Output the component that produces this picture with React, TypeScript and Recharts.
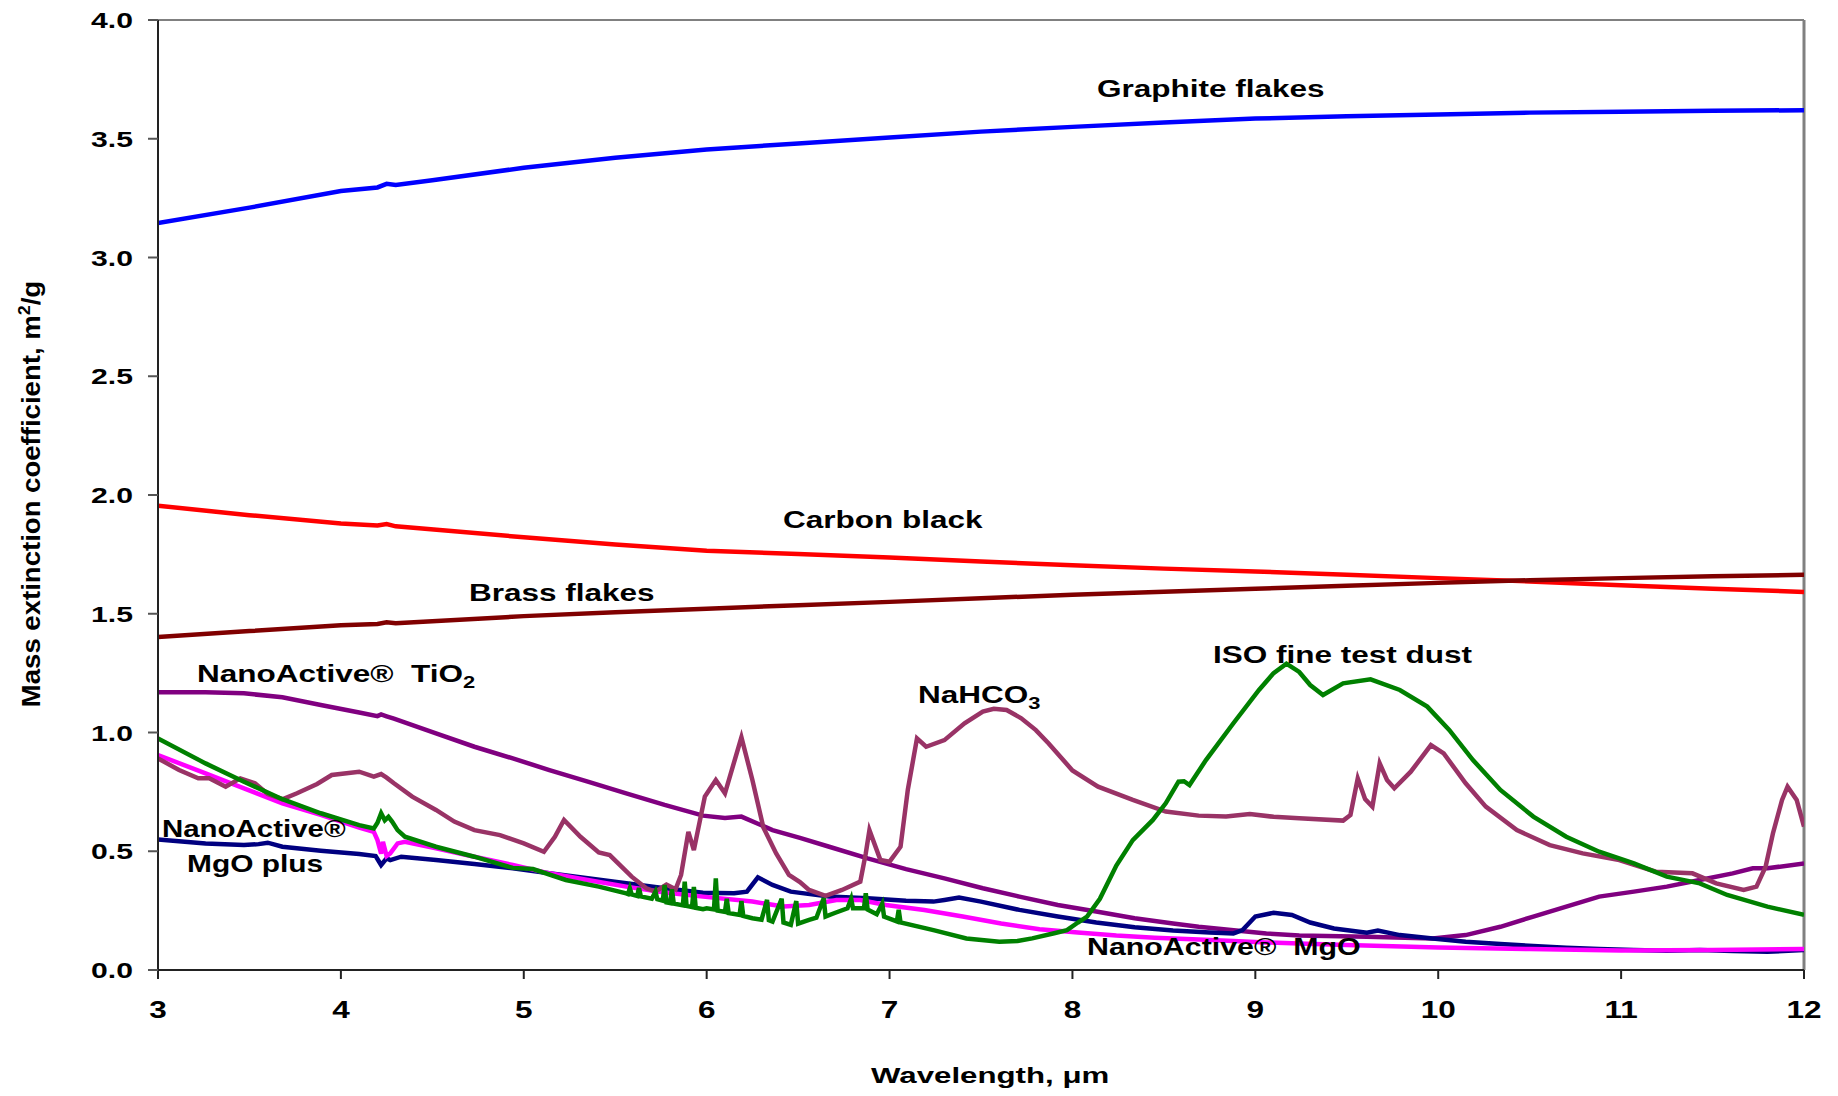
import React from 'react';
import { LineChart, Line, XAxis, YAxis, ReferenceLine } from 'recharts';

// wavelength (um) / mass extinction coefficient (m2/g) pairs
const graphiteFlakes: [number, number][] = [
  [3.0, 3.145], [3.5, 3.21], [4.0, 3.28], [4.2, 3.295], [4.25, 3.31], [4.3, 3.305], [4.5, 3.325],
  [5.0, 3.378], [5.5, 3.42], [6.0, 3.455], [6.5, 3.48], [7.0, 3.505], [7.5, 3.53], [8.0, 3.55],
  [8.5, 3.568], [9.0, 3.585], [9.5, 3.595], [10.0, 3.602], [10.5, 3.61], [11.0, 3.614], [11.5, 3.618], [12.0, 3.62],
];

const carbonBlack: [number, number][] = [
  [3.0, 1.955], [3.5, 1.915], [4.0, 1.88], [4.2, 1.872], [4.25, 1.878], [4.3, 1.868], [5.0, 1.822],
  [5.5, 1.792], [6.0, 1.765], [6.5, 1.752], [7.0, 1.737], [7.5, 1.72], [8.0, 1.704], [8.5, 1.69],
  [9.0, 1.678], [9.5, 1.664], [10.0, 1.65], [10.5, 1.636], [11.0, 1.62], [11.5, 1.605], [12.0, 1.592],
];

const brassFlakes: [number, number][] = [
  [3.0, 1.402], [3.5, 1.427], [4.0, 1.452], [4.2, 1.457], [4.25, 1.464], [4.3, 1.46], [5.0, 1.49],
  [5.5, 1.506], [6.0, 1.521], [6.5, 1.536], [7.0, 1.55], [7.5, 1.565], [8.0, 1.58], [8.5, 1.593],
  [9.0, 1.605], [9.5, 1.618], [10.0, 1.63], [10.5, 1.641], [11.0, 1.65], [11.5, 1.658], [12.0, 1.664],
];

const tio2: [number, number][] = [
  [3.0, 1.169], [3.26, 1.169], [3.47, 1.165], [3.68, 1.148], [3.89, 1.116], [4.1, 1.084], [4.2, 1.069],
  [4.22, 1.076], [4.25, 1.068], [4.29, 1.058], [4.52, 0.996], [4.73, 0.94], [4.94, 0.891], [5.14, 0.842],
  [5.35, 0.793], [5.56, 0.744], [5.77, 0.695], [5.98, 0.65], [6.1, 0.64], [6.19, 0.646], [6.36, 0.589],
  [6.51, 0.556], [6.67, 0.519], [6.88, 0.47], [7.09, 0.425], [7.3, 0.386], [7.51, 0.344], [7.71, 0.309],
  [7.92, 0.274], [8.13, 0.246], [8.34, 0.218], [8.55, 0.196], [8.69, 0.182], [9.06, 0.154], [9.24, 0.145],
  [9.61, 0.14], [9.97, 0.133], [10.15, 0.147], [10.34, 0.182], [10.52, 0.225], [10.7, 0.267], [10.88, 0.309],
  [11.07, 0.33], [11.25, 0.351], [11.43, 0.379], [11.61, 0.407], [11.72, 0.428], [11.8, 0.428], [12.0, 0.449],
];

const mgoPlus: [number, number][] = [
  [3.0, 0.55], [3.26, 0.533], [3.47, 0.526], [3.55, 0.53], [3.6, 0.536], [3.68, 0.519], [3.89, 0.502],
  [4.1, 0.488], [4.19, 0.48], [4.22, 0.442], [4.25, 0.47], [4.27, 0.463], [4.33, 0.477], [4.52, 0.463],
  [4.73, 0.446], [4.94, 0.428], [5.14, 0.407], [5.35, 0.386], [5.56, 0.365], [5.77, 0.344], [5.98, 0.325],
  [6.15, 0.323], [6.22, 0.33], [6.28, 0.39], [6.36, 0.358], [6.46, 0.33], [6.67, 0.309], [6.88, 0.302],
  [7.09, 0.292], [7.24, 0.288], [7.3, 0.295], [7.38, 0.305], [7.5, 0.288], [7.71, 0.253], [7.92, 0.225],
  [8.13, 0.2], [8.34, 0.18], [8.55, 0.166], [8.75, 0.158], [8.88, 0.154], [8.93, 0.168], [9.0, 0.225],
  [9.1, 0.241], [9.2, 0.232], [9.3, 0.2], [9.43, 0.175], [9.61, 0.157], [9.67, 0.166], [9.79, 0.147],
  [9.97, 0.133], [10.15, 0.119], [10.34, 0.109], [10.52, 0.101], [10.7, 0.094], [10.88, 0.088],
  [11.07, 0.084], [11.25, 0.081], [11.43, 0.084], [11.61, 0.08], [11.8, 0.077], [12.0, 0.084],
];

const mgo: [number, number][] = [
  [3.0, 0.905], [3.26, 0.828], [3.47, 0.765], [3.68, 0.702], [3.89, 0.653], [4.1, 0.6], [4.18, 0.582],
  [4.2, 0.547], [4.22, 0.49], [4.23, 0.54], [4.25, 0.48], [4.27, 0.491], [4.31, 0.533], [4.35, 0.54],
  [4.52, 0.512], [4.73, 0.477], [4.94, 0.442], [5.14, 0.407], [5.35, 0.379], [5.56, 0.351], [5.77, 0.326],
  [5.98, 0.309], [6.25, 0.288], [6.42, 0.267], [6.56, 0.274], [6.71, 0.295], [6.84, 0.295], [6.98, 0.274],
  [7.19, 0.253], [7.4, 0.225], [7.61, 0.196], [7.82, 0.172], [8.03, 0.158], [8.24, 0.145], [8.45, 0.136],
  [8.69, 0.128], [8.88, 0.122], [9.06, 0.116], [9.24, 0.112], [9.5, 0.105], [10.0, 0.095], [10.5, 0.088],
  [11.0, 0.082], [11.5, 0.084], [12.0, 0.088],
];

const nahco3: [number, number][] = [
  [3.0, 0.891], [3.115, 0.842], [3.22, 0.807], [3.28, 0.807], [3.37, 0.772], [3.45, 0.807], [3.53, 0.786],
  [3.6, 0.741], [3.68, 0.719], [3.76, 0.744], [3.87, 0.783], [3.95, 0.821], [4.1, 0.835], [4.18, 0.814],
  [4.22, 0.825], [4.25, 0.81], [4.29, 0.786], [4.39, 0.73], [4.52, 0.674], [4.62, 0.625], [4.73, 0.589],
  [4.87, 0.568], [5.0, 0.533], [5.11, 0.498], [5.17, 0.561], [5.22, 0.632], [5.31, 0.561], [5.41, 0.495],
  [5.47, 0.484], [5.59, 0.393], [5.67, 0.344], [5.72, 0.33], [5.78, 0.36], [5.83, 0.34], [5.86, 0.4],
  [5.9, 0.582], [5.93, 0.505], [5.99, 0.73], [6.05, 0.8], [6.1, 0.744], [6.19, 0.98], [6.25, 0.8],
  [6.31, 0.6], [6.38, 0.491], [6.45, 0.4], [6.51, 0.37], [6.56, 0.337], [6.65, 0.312], [6.74, 0.337],
  [6.84, 0.372], [6.87, 0.491], [6.89, 0.589], [6.95, 0.463], [7.0, 0.456], [7.06, 0.519], [7.1, 0.76],
  [7.15, 0.975], [7.2, 0.94], [7.3, 0.968], [7.41, 1.039], [7.51, 1.088], [7.57, 1.1], [7.64, 1.095],
  [7.72, 1.06], [7.8, 1.01], [7.87, 0.954], [8.0, 0.84], [8.14, 0.772], [8.33, 0.716], [8.51, 0.667],
  [8.69, 0.65], [8.84, 0.646], [8.97, 0.657], [9.1, 0.645], [9.24, 0.639], [9.48, 0.629], [9.52, 0.653],
  [9.56, 0.807], [9.6, 0.72], [9.64, 0.688], [9.68, 0.87], [9.72, 0.8], [9.76, 0.765], [9.85, 0.835],
  [9.96, 0.947], [10.03, 0.912], [10.15, 0.786], [10.26, 0.688], [10.43, 0.589], [10.61, 0.526],
  [10.79, 0.491], [10.99, 0.463], [11.19, 0.414], [11.39, 0.407], [11.52, 0.365], [11.67, 0.337],
  [11.74, 0.351], [11.79, 0.435], [11.83, 0.575], [11.88, 0.716], [11.91, 0.772], [11.96, 0.716], [12.0, 0.604],
];

const isoDust: [number, number][] = [
  [3.0, 0.975], [3.26, 0.87], [3.47, 0.793], [3.68, 0.719], [3.89, 0.66], [4.1, 0.61], [4.18, 0.596],
  [4.2, 0.62], [4.22, 0.66], [4.24, 0.63], [4.26, 0.645], [4.28, 0.625], [4.31, 0.589], [4.35, 0.561],
  [4.52, 0.519], [4.73, 0.477], [4.94, 0.43], [5.05, 0.425], [5.23, 0.379], [5.41, 0.351], [5.56, 0.323],
  [5.57, 0.32], [5.58, 0.344], [5.59, 0.318], [5.62, 0.312], [5.63, 0.345], [5.64, 0.31], [5.7, 0.3],
  [5.72, 0.33], [5.73, 0.298], [5.76, 0.292], [5.77, 0.358], [5.78, 0.285], [5.8, 0.282], [5.81, 0.34],
  [5.82, 0.28], [5.87, 0.272], [5.88, 0.372], [5.89, 0.27], [5.92, 0.265], [5.93, 0.35], [5.94, 0.262],
  [5.98, 0.256], [6.0, 0.26], [6.04, 0.255], [6.05, 0.386], [6.06, 0.25], [6.1, 0.245], [6.11, 0.3],
  [6.12, 0.24], [6.18, 0.232], [6.19, 0.29], [6.2, 0.228], [6.25, 0.218], [6.3, 0.212], [6.33, 0.295],
  [6.34, 0.21], [6.36, 0.204], [6.41, 0.3], [6.42, 0.2], [6.46, 0.19], [6.49, 0.29], [6.5, 0.195],
  [6.56, 0.211], [6.6, 0.22], [6.64, 0.302], [6.65, 0.225], [6.7, 0.24], [6.77, 0.26], [6.79, 0.3],
  [6.8, 0.26], [6.86, 0.26], [6.87, 0.323], [6.88, 0.255], [6.93, 0.235], [6.96, 0.28], [6.97, 0.225],
  [7.04, 0.205], [7.05, 0.253], [7.06, 0.2], [7.24, 0.168], [7.42, 0.133], [7.6, 0.119], [7.7, 0.122],
  [7.78, 0.133], [7.9, 0.155], [7.97, 0.168], [8.03, 0.2], [8.08, 0.225], [8.15, 0.3], [8.24, 0.44],
  [8.33, 0.547], [8.44, 0.632], [8.51, 0.702], [8.58, 0.793], [8.61, 0.795], [8.64, 0.779], [8.73, 0.884],
  [8.88, 1.039], [9.02, 1.179], [9.1, 1.25], [9.17, 1.29], [9.24, 1.255], [9.3, 1.2], [9.37, 1.158],
  [9.48, 1.207], [9.63, 1.224], [9.79, 1.179], [9.94, 1.109], [10.06, 1.011], [10.19, 0.884], [10.34, 0.758],
  [10.52, 0.646], [10.7, 0.561], [10.88, 0.498], [11.07, 0.449], [11.25, 0.393], [11.43, 0.365],
  [11.58, 0.316], [11.8, 0.267], [12.0, 0.232],
];

const xTicks = [3, 4, 5, 6, 7, 8, 9, 10, 11, 12];
const yTicks = [0, 0.5, 1, 1.5, 2, 2.5, 3, 3.5, 4];

const FONT = '"Liberation Sans", Arial, sans-serif';
const SX = 1.37; // the original text is drawn wide

const toPts = (arr: [number, number][]) => arr.map(([x, y]) => ({ x, y }));

const series = [
  { name: 'Graphite flakes', data: graphiteFlakes, color: '#0000FF' },
  { name: 'Carbon black', data: carbonBlack, color: '#FF0000' },
  { name: 'Brass flakes', data: brassFlakes, color: '#800000' },
  { name: 'TiO2', data: tio2, color: '#800080' },
  { name: 'MgO plus', data: mgoPlus, color: '#000080' },
  { name: 'MgO', data: mgo, color: '#FF00FF' },
  { name: 'NaHCO3', data: nahco3, color: '#993366' },
  { name: 'ISO fine test dust', data: isoDust, color: '#008000' },
];

const YTick = (props: any) => (
  <text
    transform={`translate(${props.x},${props.y + 8}) scale(${SX},1)`}
    textAnchor="end"
    fontFamily={FONT}
    fontWeight="bold"
    fontSize={22}
    fill="#000"
  >
    {props.payload.value.toFixed(1)}
  </text>
);

const XTick = (props: any) => (
  <text
    transform={`translate(${props.x},${props.y + 16}) scale(${SX},1)`}
    textAnchor="middle"
    fontFamily={FONT}
    fontWeight="bold"
    fontSize={23}
    fill="#000"
  >
    {props.payload.value}
  </text>
);

const Lbl = ({ x, y, children, sx = SX, size = 23 }: any) => (
  <text
    transform={`translate(${x},${y}) scale(${sx},1)`}
    fontFamily={FONT}
    fontWeight="bold"
    fontSize={size}
    fill="#000"
    style={{ whiteSpace: 'pre' }}
  >
    {children}
  </text>
);

const App: React.FC = () => {
  return (
    <div style={{ position: 'absolute', left: 0, top: 0, width: 1838, height: 1096, background: '#fff' }}>
      <LineChart width={1838} height={1096} margin={{ top: 20, right: 34, left: 0, bottom: 0 }}>
        <XAxis
          dataKey="x"
          type="number"
          domain={[3, 12]}
          ticks={xTicks}
          height={126}
          tickSize={9}
          tickMargin={23}
          tick={XTick}
          axisLine={{ stroke: '#222', strokeWidth: 2 }}
          tickLine={{ stroke: '#222', strokeWidth: 2 }}
          allowDataOverflow
        />
        <YAxis
          type="number"
          domain={[0, 4]}
          ticks={yTicks}
          width={158}
          tickSize={10}
          tickMargin={15}
          tick={YTick}
          axisLine={{ stroke: '#222', strokeWidth: 2 }}
          tickLine={{ stroke: '#555', strokeWidth: 2 }}
          allowDataOverflow
        />
        <ReferenceLine y={4} stroke="#808080" strokeWidth={2} />
        <ReferenceLine x={12} stroke="#808080" strokeWidth={3} />
        {series.map((s) => (
          <Line
            key={s.name}
            data={toPts(s.data)}
            dataKey="y"
            type="linear"
            stroke={s.color}
            strokeWidth={4.5}
            dot={false}
            activeDot={false}
            isAnimationActive={false}
          />
        ))}
      </LineChart>
      <svg
        width={1838}
        height={1096}
        style={{ position: 'absolute', left: 0, top: 0, pointerEvents: 'none' }}
      >
        <Lbl x={1097} y={97}>Graphite flakes</Lbl>
        <Lbl x={783} y={528}>Carbon black</Lbl>
        <Lbl x={469} y={601}>Brass flakes</Lbl>
        <Lbl x={197} y={682}>
          {'NanoActive®  TiO'}
          <tspan fontSize={16} dy={6}>2</tspan>
        </Lbl>
        <Lbl x={918} y={703}>
          {'NaHCO'}
          <tspan fontSize={16} dy={6}>3</tspan>
        </Lbl>
        <Lbl x={1213} y={663}>ISO fine test dust</Lbl>
        <Lbl x={162} y={837} sx={1.28}>NanoActive®</Lbl>
        <Lbl x={187} y={872} sx={1.3}>MgO plus</Lbl>
        <Lbl x={1087} y={955} sx={1.32}>{'NanoActive®  MgO'}</Lbl>
        <Lbl x={871} y={1083} sx={1.42} size={22}>
          {'Wavelength, \u03bcm'}
        </Lbl>
        <text
          transform={`translate(40,494) rotate(-90) scale(1.06,1)`}
          textAnchor="middle"
          fontFamily={FONT}
          fontWeight="bold"
          fontSize={26}
          fill="#000"
        >
          {'Mass extinction coefficient, m'}
          <tspan fontSize={17} dy={-10}>2</tspan>
          <tspan dy={10}>/g</tspan>
        </text>
      </svg>
    </div>
  );
};

export default App;
